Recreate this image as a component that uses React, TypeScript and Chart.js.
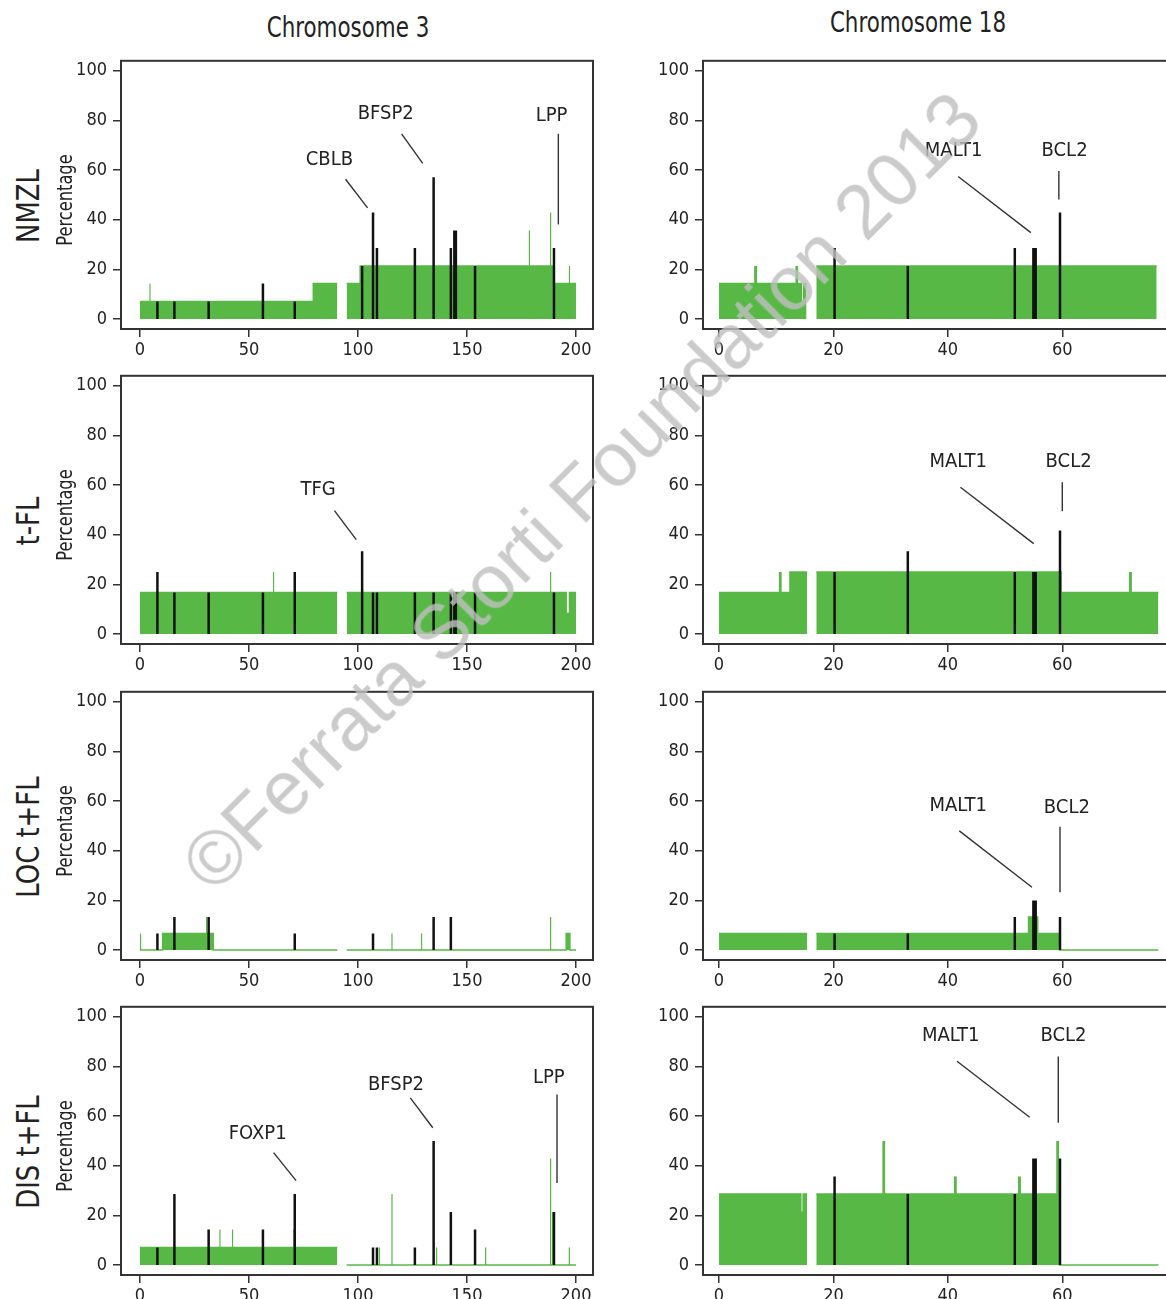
import React, { useEffect, useRef } from "react";
import { Chart, registerables } from "chart.js";

Chart.register(...registerables);

const FONT =
  '"Liberation Sans Narrow", "Arial Narrow", "Nimbus Sans Narrow", "DejaVu Sans Condensed", "Liberation Sans", sans-serif';

// ---------- text ----------
const chromosomeTitles = ["Chromosome 3", "Chromosome 18"];
const groupLabels = ["NMZL", "t-FL", "LOC t+FL", "DIS t+FL"];
const yAxisLabel = "Percentage";
const watermarkText = "\u00A9Ferrata Storti Foundation 2013";

// ---------- ticks ----------
const yTicks = [0, 20, 40, 60, 80, 100];
const chr3Ticks = [0, 50, 100, 150, 200];
const chr18Ticks = [0, 20, 40, 60];

// ---------- gene positions (Mb) ----------
const chr3GenePos = [8, 15.8, 31.5, 56.4, 71, 101.9, 106.9, 108.7, 126.1, 134.7, 142.6, 144.2, 144.9, 153.7, 189.9];
const chr18GenePos = [20.2, 33, 51.7, 54.95, 55.35, 59.6];

// ---------- gene percentages per group ----------
const nmzlChr3Genes = [7.1, 7.1, 7.1, 14.3, 7.1, 21.4, 42.9, 28.6, 28.6, 57.1, 28.6, 35.7, 35.7, 21.4, 28.6];
const tflChr3Genes = [25, 16.7, 16.7, 16.7, 25, 33.3, 16.7, 16.7, 16.7, 16.7, 16.7, 16.7, 16.7, 16.7, 16.7];
const locChr3Genes = [6.7, 13.3, 13.3, 0, 6.7, 0, 6.7, 0, 0, 13.3, 13.3, 0, 0, 0, 0];
const disChr3Genes = [7.1, 28.6, 14.3, 14.3, 28.6, 0, 7.1, 7.1, 7.1, 50, 21.4, 0, 0, 14.3, 21.4];

const nmzlChr18Genes = [28.6, 21.4, 28.6, 28.6, 28.6, 42.9];
const tflChr18Genes = [25, 33.3, 25, 25, 25, 41.7];
const locChr18Genes = [6.7, 6.7, 13.3, 20, 20, 13.3];
const disChr18Genes = [35.7, 28.6, 28.6, 42.9, 42.9, 42.9];

// ---------- copy-number frequency segments [start, end, %] ----------
type Seg = [number, number, number];
type Spike = [number, number];
type Ann = [string, number, number, number, number, number, number];

const nmzlChr3Segments: Seg[] = [[0, 79.5, 7.1], [79.5, 90.5, 14.3], [94.8, 101, 14.3], [101, 189.6, 21.4], [189.6, 200, 14.3]];
const nmzlChr3Spikes: Spike[] = [[4.6, 14.3], [178.6, 35.7], [188.4, 42.9], [197, 21.4]];
const tflChr3Segments: Seg[] = [[0, 90.5, 16.7], [94.8, 195.5, 16.7], [195.5, 197, 8.3], [197, 200, 16.7]];
const tflChr3Spikes: Spike[] = [[61.3, 25], [188.4, 25]];
const locChr3Segments: Seg[] = [[0, 10.4, 0], [10.4, 33.6, 6.7], [33.6, 90.5, 0], [94.8, 195.5, 0], [195.5, 197.2, 6.7], [197.2, 200, 0]];
const locChr3Spikes: Spike[] = [[0.3, 6.7], [30.6, 13.3], [115.6, 6.7], [129.2, 6.7], [188.4, 13.3]];
const disChr3Segments: Seg[] = [[0, 90.5, 7.1], [94.8, 200, 0]];
const disChr3Spikes: Spike[] = [[36.7, 14.3], [42.5, 14.3], [70.6, 14.3], [109.8, 7.1], [115.6, 28.6], [136.1, 7.1], [158.6, 7.1], [188.4, 42.9], [189.3, 21.4], [196.9, 7.1]];

const nmzlChr18Segments: Seg[] = [[0, 14.4, 14.3], [14.4, 14.8, 7.1], [14.8, 15.3, 14.3], [17, 76.5, 21.4]];
const nmzlChr18Spikes: Spike[] = [[6.4, 21.4], [13.6, 21.4]];
const tflChr18Segments: Seg[] = [[0, 12.4, 16.7], [12.4, 15.4, 25], [17, 59.8, 25], [59.8, 76.8, 16.7]];
const tflChr18Spikes: Spike[] = [[10.7, 25], [71.9, 25]];
const locChr18Segments: Seg[] = [[0, 15.4, 6.7], [17, 54.1, 6.7], [54.1, 55.7, 13.3], [55.7, 59.5, 6.7], [59.5, 76.8, 0]];
const locChr18Spikes: Spike[] = [];
const disChr18Segments: Seg[] = [[0, 14.3, 28.6], [14.3, 14.7, 21.4], [14.7, 15.4, 28.6], [17, 59.5, 28.6], [59.5, 76.8, 0]];
const disChr18Spikes: Spike[] = [[28.8, 50], [41.3, 35.7], [52.5, 35.7], [59.2, 50]];

// ---------- gene annotations [label, textX, textY, lineX1, lineY1, lineX2, lineY2] ----------
const nmzlChr3Labels: Ann[] = [["CBLB", 86.9, 64.1, 94.3, 56.3, 104.4, 44.8], ["BFSP2", 112.7, 82.7, 120, 74.6, 129.7, 62.7], ["LPP", 188.8, 81.9, 191.9, 74.6, 191.9, 38.1]];
const nmzlChr18Labels: Ann[] = [["MALT1", 41, 67.6, 41.8, 57.4, 54.5, 34.8], ["BCL2", 60.4, 67.6, 59.4, 59.6, 59.4, 48.1]];
const tflChr3Labels: Ann[] = [["TFG", 81.7, 58, 89.2, 49.7, 99.2, 38]];
const tflChr18Labels: Ann[] = [["MALT1", 41.8, 69.2, 42.2, 59.1, 55, 36.4], ["BCL2", 61.1, 69.2, 60, 61.1, 60, 49.5]];
const locChr3Labels: Ann[] = [];
const locChr18Labels: Ann[] = [["MALT1", 41.8, 58, 42, 48, 54.7, 25.3], ["BCL2", 60.8, 57.3, 59.6, 49.7, 59.6, 23.3]];
const disChr3Labels: Ann[] = [["FOXP1", 54, 52.7, 61.3, 45.3, 71.6, 34], ["BFSP2", 117.4, 72.7, 124, 67.3, 134.3, 55.3], ["LPP", 187.5, 75.3, 191.3, 68.7, 191.3, 33]];
const disChr18Labels: Ann[] = [["MALT1", 40.5, 92.4, 41.6, 82.1, 54.3, 59.5], ["BCL2", 60.2, 92.5, 59.3, 84, 59.3, 57.3]];

interface PanelDef {
  row: number;
  col: number;
  genePos: number[];
  geneHeights: number[];
  segments: Seg[];
  spikes: Spike[];
  labels: Ann[];
}

const panels: PanelDef[] = [
  { row: 0, col: 0, genePos: chr3GenePos, geneHeights: nmzlChr3Genes, segments: nmzlChr3Segments, spikes: nmzlChr3Spikes, labels: nmzlChr3Labels },
  { row: 0, col: 1, genePos: chr18GenePos, geneHeights: nmzlChr18Genes, segments: nmzlChr18Segments, spikes: nmzlChr18Spikes, labels: nmzlChr18Labels },
  { row: 1, col: 0, genePos: chr3GenePos, geneHeights: tflChr3Genes, segments: tflChr3Segments, spikes: tflChr3Spikes, labels: tflChr3Labels },
  { row: 1, col: 1, genePos: chr18GenePos, geneHeights: tflChr18Genes, segments: tflChr18Segments, spikes: tflChr18Spikes, labels: tflChr18Labels },
  { row: 2, col: 0, genePos: chr3GenePos, geneHeights: locChr3Genes, segments: locChr3Segments, spikes: locChr3Spikes, labels: locChr3Labels },
  { row: 2, col: 1, genePos: chr18GenePos, geneHeights: locChr18Genes, segments: locChr18Segments, spikes: locChr18Spikes, labels: locChr18Labels },
  { row: 3, col: 0, genePos: chr3GenePos, geneHeights: disChr3Genes, segments: disChr3Segments, spikes: disChr3Spikes, labels: disChr3Labels },
  { row: 3, col: 1, genePos: chr18GenePos, geneHeights: disChr18Genes, segments: disChr18Segments, spikes: disChr18Spikes, labels: disChr18Labels },
];

// ---------- layout ----------
const FRAME_TOPS = [59, 374, 690, 1005];
const FRAME_H = 270;
const PAD_TOP = 15;
const PAD_RIGHT = 12;
const Y_AXIS_W = 60;
const X_AXIS_H = 35;
const COLUMNS = [
  { frameLeft: 121, frameRight: 593, xMin: -8.7, xMax: 207.8, ticks: chr3Ticks, spikeW: 0.7 },
  { frameLeft: 703, frameRight: 1183, xMin: -2.8, xMax: 81.1, ticks: chr18Ticks, spikeW: 0.55 },
];
const GREEN = "#58b846";
const INK = "#222";

function buildArea(segs: Seg[]) {
  const pts: { x: number; y: number | null }[] = [];
  let prevEnd: number | null = null;
  for (const [s, e, v] of segs) {
    if (prevEnd !== null && Math.abs(s - prevEnd) > 1e-6) pts.push({ x: (prevEnd + s) / 2, y: null });
    pts.push({ x: s, y: v }, { x: e, y: v });
    prevEnd = e;
  }
  return pts;
}

function buildSpikes(spikes: Spike[], w: number) {
  const pts: { x: number; y: number | null }[] = [];
  spikes.forEach(([p, v], i) => {
    if (i > 0) pts.push({ x: p - w, y: null });
    pts.push({ x: p - w / 2, y: v }, { x: p + w / 2, y: v });
  });
  return pts;
}

function buildGenes(pos: number[], h: number[]) {
  const pts: { x: number; y: number | null }[] = [];
  pos.forEach((p, i) => {
    pts.push({ x: p, y: 0 }, { x: p, y: h[i] }, { x: p, y: null });
  });
  return pts;
}

function PanelChart({ def }: { def: PanelDef }) {
  const ref = useRef<HTMLCanvasElement>(null);
  const col = COLUMNS[def.col];
  const frameTop = FRAME_TOPS[def.row];
  const left = col.frameLeft - Y_AXIS_W;
  const width = col.frameRight + PAD_RIGHT - left;
  const top = frameTop - PAD_TOP;
  const height = PAD_TOP + FRAME_H + X_AXIS_H;

  useEffect(() => {
    if (!ref.current) return;
    const labels = def.labels;
    const framePlugin = {
      id: "frameAndLabels",
      afterDatasetsDraw(chart: any) {
        const { ctx, chartArea, scales } = chart;
        const xs = scales.x;
        const ys = scales.y;
        ctx.save();
        ctx.strokeStyle = "#333";
        ctx.lineWidth = 1.4;
        ctx.fillStyle = INK;
        ctx.font = `20px ${FONT}`;
        ctx.textAlign = "center";
        ctx.textBaseline = "middle";
        for (const [name, tx, ty, x1, y1, x2, y2] of labels) {
          ctx.beginPath();
          ctx.moveTo(xs.getPixelForValue(x1), ys.getPixelForValue(y1));
          ctx.lineTo(xs.getPixelForValue(x2), ys.getPixelForValue(y2));
          ctx.stroke();
          ctx.fillText(name, xs.getPixelForValue(tx), ys.getPixelForValue(ty));
        }
        ctx.strokeStyle = "#333";
        ctx.lineWidth = 2;
        ctx.strokeRect(chartArea.left, chartArea.top, chartArea.right - chartArea.left, chartArea.bottom - chartArea.top);
        ctx.restore();
      },
    };

    const tickFont = { family: FONT, size: 18 };
    const chart = new Chart(ref.current, {
      type: "line",
      data: {
        datasets: [
          {
            data: buildGenes(def.genePos, def.geneHeights),
            borderColor: "#111",
            borderWidth: 2.5,
            pointRadius: 0,
            fill: false,
            spanGaps: false,
            tension: 0,
            order: 0,
          } as any,
          {
            data: buildSpikes(def.spikes, col.spikeW),
            borderColor: "rgba(0,0,0,0)",
            borderWidth: 0,
            backgroundColor: GREEN,
            pointRadius: 0,
            fill: "origin",
            spanGaps: false,
            tension: 0,
            order: 1,
          } as any,
          {
            data: buildArea(def.segments),
            borderColor: GREEN,
            borderWidth: 1.5,
            backgroundColor: GREEN,
            pointRadius: 0,
            fill: "origin",
            spanGaps: false,
            tension: 0,
            order: 2,
          } as any,
        ],
      },
      options: {
        animation: false,
        responsive: false,
        events: [],
        layout: { padding: { top: PAD_TOP, right: PAD_RIGHT, left: 0, bottom: 0 } },
        plugins: { legend: { display: false }, tooltip: { enabled: false } },
        scales: {
          x: {
            type: "linear",
            min: col.xMin,
            max: col.xMax,
            afterBuildTicks: (a: any) => {
              a.ticks = col.ticks.map((v) => ({ value: v }));
            },
            afterFit: (a: any) => {
              a.height = X_AXIS_H;
            },
            grid: { display: true, drawOnChartArea: false, drawTicks: true, tickLength: 8, color: "#333", lineWidth: 1.5 },
            border: { display: true, color: "#333", width: 2 },
            ticks: { font: tickFont, color: INK, padding: 3, maxRotation: 0, autoSkip: false, callback: (v: any) => String(v) },
          },
          y: {
            type: "linear",
            min: -4,
            max: 104,
            afterBuildTicks: (a: any) => {
              a.ticks = yTicks.map((v) => ({ value: v }));
            },
            afterFit: (a: any) => {
              a.width = Y_AXIS_W;
            },
            grid: { display: true, drawOnChartArea: false, drawTicks: true, tickLength: 8, color: "#333", lineWidth: 1.5 },
            border: { display: true, color: "#333", width: 2 },
            ticks: { font: tickFont, color: INK, padding: 6, autoSkip: false, callback: (v: any) => String(v) },
          },
        },
      } as any,
      plugins: [framePlugin],
    });
    return () => chart.destroy();
  }, []);

  return (
    <canvas
      ref={ref}
      width={width}
      height={height}
      style={{ position: "absolute", left, top, width, height, display: "block" }}
    />
  );
}

const rowLabelOffset = 147;
const pctLabelOffset = 141;

export default function App() {
  return (
    <div
      style={{
        position: "fixed",
        left: 0,
        top: 0,
        width: 1166,
        height: 1299,
        overflow: "hidden",
        background: "#fff",
        fontFamily: FONT,
        color: INK,
      }}
    >
      {panels.map((p, i) => (
        <PanelChart key={i} def={p} />
      ))}
      {chromosomeTitles.map((t, i) => (
        <div
          key={t}
          style={{
            position: "absolute",
            left: i === 0 ? 347.5 : 917.5,
            top: i === 0 ? 28 : 23,
            transform: "translate(-50%, -50%) scaleX(0.85)",
            fontSize: 28,
            whiteSpace: "nowrap",
            lineHeight: 1,
          }}
        >
          {t}
        </div>
      ))}
      {groupLabels.map((g, r) => (
        <React.Fragment key={g}>
          <div
            style={{
              position: "absolute",
              left: 28,
              top: FRAME_TOPS[r] + rowLabelOffset,
              transform: "translate(-50%, -50%) rotate(-90deg) scaleX(0.9)",
              fontSize: 32,
              whiteSpace: "nowrap",
              lineHeight: 1,
            }}
          >
            {g}
          </div>
          <div
            style={{
              position: "absolute",
              left: 65,
              top: FRAME_TOPS[r] + pctLabelOffset,
              transform: "translate(-50%, -50%) rotate(-90deg) scaleX(0.86)",
              fontSize: 21,
              whiteSpace: "nowrap",
              lineHeight: 1,
            }}
          >
            {yAxisLabel}
          </div>
        </React.Fragment>
      ))}
      <div
        style={{
          position: "absolute",
          left: 581,
          top: 491,
          transform: "translate(-50%, -50%) rotate(-45deg)",
          fontFamily: '"Liberation Sans", Arial, sans-serif',
          fontSize: 76,
          whiteSpace: "nowrap",
          lineHeight: 1,
          color: "rgba(190,190,190,0.8)",
          pointerEvents: "none",
        }}
      >
        {watermarkText}
      </div>
    </div>
  );
}
